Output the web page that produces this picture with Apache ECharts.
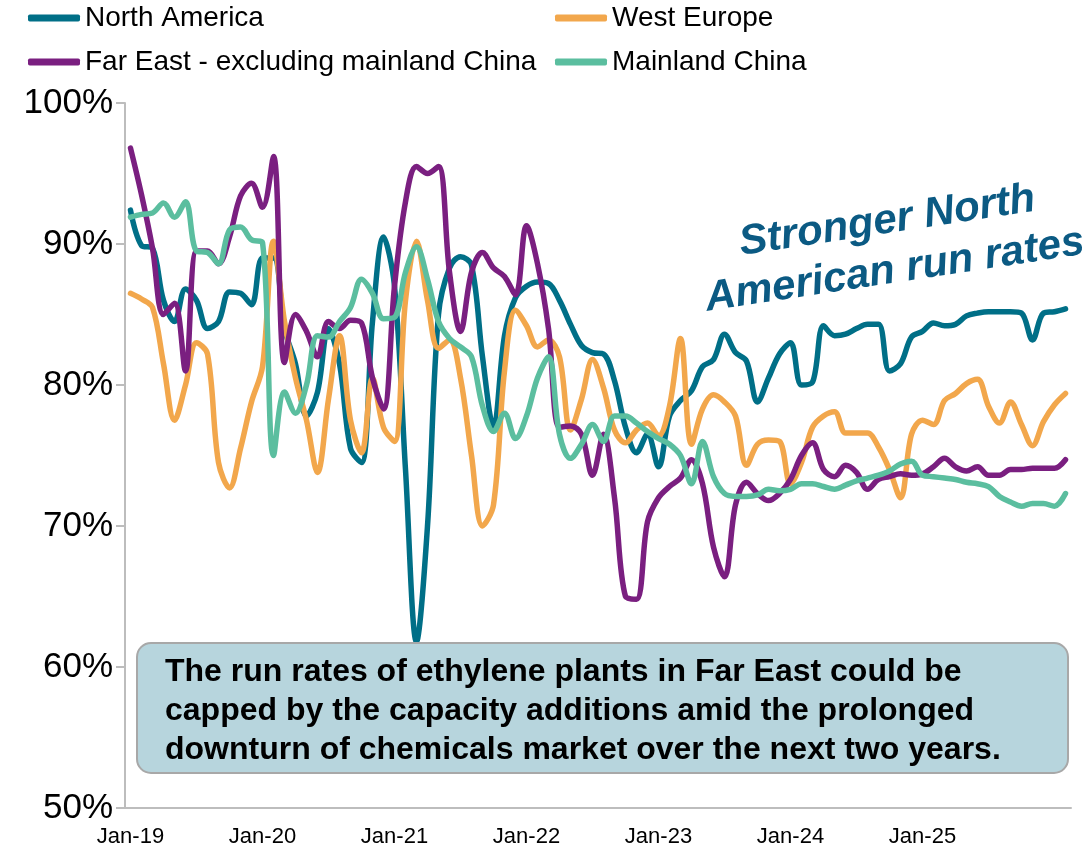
<!DOCTYPE html>
<html>
<head>
<meta charset="utf-8">
<script src="https://cdn.jsdelivr.net/npm/echarts@6/dist/echarts.min.js"></script>
<style>
  html, body { margin: 0; padding: 0; background: #fff; }
  #chart { width: 1088px; height: 852px; }
</style>
</head>
<body>
<div id="chart"></div>
<script>
// months Jan-19 .. Feb-26
const monthNames = ['Jan', 'Feb', 'Mar', 'Apr', 'May', 'Jun', 'Jul', 'Aug', 'Sep', 'Oct', 'Nov', 'Dec'];
const years = ['19', '20', '21', '22', '23', '24', '25', '26'];
const categories = [];
years.forEach(y => monthNames.forEach(m => categories.push(m + '-' + y)));
categories.length = 86;

const yTicks = [50, 60, 70, 80, 90, 100];
const xLabelsShown = ['Jan-19', 'Jan-20', 'Jan-21', 'Jan-22', 'Jan-23', 'Jan-24', 'Jan-25'];

const northAmerica = [
  92.4, 89.9, 89.7, 86.0, 84.5, 86.8, 86.0, 84.0, 84.5, 86.6, 86.5, 85.7,
  89.0, 89.0, 84.0, 81.5, 77.8, 79.5, 84.0, 81.5, 75.5, 74.5, 84.5, 90.5,
  87.0, 74.0, 61.8, 70.0, 85.0, 88.3, 89.1, 88.5, 82.0, 77.0, 83.5, 86.2,
  87.0, 87.3, 87.2, 86.0, 84.3, 82.8, 82.3, 82.2, 80.3, 77.0, 75.2, 76.5,
  74.2, 77.8, 78.9, 79.6, 81.3, 81.8, 83.6, 82.3, 81.7, 78.8, 80.5, 82.2,
  83.0, 80.0, 80.2, 84.2, 83.5, 83.6, 84.0, 84.3, 84.3, 81.0, 81.5, 83.4,
  83.8, 84.4, 84.2, 84.3, 84.9, 85.1, 85.2, 85.2, 85.2, 85.1, 83.2, 85.1,
  85.2, 85.4
];
const westEurope = [
  86.5, 86.1, 85.5, 81.5, 77.5, 80.0, 83.0, 82.2, 74.5, 72.7, 75.5, 78.8,
  81.3, 90.2, 84.5, 80.5, 77.5, 73.8, 79.0, 83.5, 77.5, 75.2, 80.5, 77.0,
  76.0, 86.0, 90.2, 86.0, 82.6, 83.2, 80.5, 75.0, 70.0, 71.5, 81.0, 85.3,
  84.2, 82.7, 83.2, 82.0, 76.8, 79.0, 81.8, 79.8, 76.8, 75.9, 76.8, 77.3,
  76.4, 78.5, 83.3, 75.8, 78.3, 79.3, 78.8, 77.8, 74.3, 75.8, 76.1, 76.0,
  73.0, 74.5, 77.0, 77.8, 78.1, 76.6, 76.6, 76.6, 75.6, 74.0, 72.0, 76.5,
  77.5, 77.2, 78.9, 79.4, 80.1, 80.4, 78.5, 77.3, 78.8, 77.2, 75.7, 77.4,
  78.6, 79.4
];
const farEast = [
  96.8, 93.5, 89.7, 85.0, 85.8, 81.0, 89.5, 89.5, 88.6, 90.5, 93.4, 94.3,
  92.6, 96.2, 81.6, 85.0, 83.8, 82.0, 84.5, 84.0, 84.6, 84.4, 80.5, 78.3,
  87.0, 93.0, 95.5, 95.0, 95.5, 88.0, 83.8, 88.0, 89.4, 88.3, 87.7, 86.4,
  91.3, 88.6, 84.0, 77.0, 77.1, 76.5, 73.6, 76.5, 72.0, 65.0, 64.8, 70.3,
  72.0, 72.8, 73.4, 74.7, 73.0, 68.5, 66.4, 71.5, 73.1, 72.3, 71.8, 72.3,
  73.3, 75.0, 75.9, 74.0, 73.5, 74.3, 73.8, 72.6, 73.3, 73.5, 73.7, 73.6,
  73.7, 74.2, 74.8, 74.2, 73.9, 74.2, 73.6, 73.6, 74.0, 74.0, 74.1, 74.1,
  74.1, 74.7
];
const mainlandChina = [
  91.9, 92.1, 92.2, 92.9, 91.9, 93.0, 89.5, 89.4, 88.6, 91.0, 91.2, 90.3,
  90.1, 75.0, 79.5, 78.0, 80.0, 83.5, 83.4, 84.5, 85.5, 87.5, 86.5, 84.7,
  84.8, 88.0, 89.8, 87.5, 84.5, 83.3, 82.7, 82.0, 78.5, 76.7, 78.0, 76.2,
  77.8, 80.5, 82.0, 76.5, 74.8, 75.8, 77.2, 76.0, 77.8, 77.8, 77.3, 76.7,
  76.2, 75.8, 75.0, 73.0, 76.0, 73.5, 72.3, 72.1, 72.1, 72.2, 72.6, 72.5,
  72.6, 73.0, 73.0, 72.8, 72.6, 72.9, 73.2, 73.4, 73.6, 73.9, 74.4, 74.6,
  73.6, 73.5, 73.4, 73.3, 73.1, 73.0, 72.8, 72.1, 71.7, 71.4, 71.6, 71.6,
  71.4, 72.3
];

const seriesNames = ['North America', 'West Europe', 'Far East - excluding mainland China', 'Mainland China'];
const seriesColors = ['#006f87', '#f2a74c', '#7a1f80', '#5bbe9f'];
const seriesData = [northAmerica, westEurope, farEast, mainlandChina];

const noteText = 'The run rates of ethylene plants in Far East could be\n' +
  'capped by the capacity additions amid the prolonged\n' +
  'downturn of chemicals market over the next two years.';
const calloutText = 'Stronger North\nAmerican run rates';

const chart = echarts.init(document.getElementById('chart'), null, { renderer: 'canvas' });

const legendPos = [[28, 4], [555, 4], [28, 48], [555, 48]];

const option = {
  animation: false,
  textStyle: { fontFamily: 'Liberation Sans, Arial, sans-serif' },
  legend: seriesNames.map((name, i) => ({
    data: [name],
    left: legendPos[i][0],
    top: legendPos[i][1],
    padding: 0,
    icon: 'roundRect',
    itemWidth: 52,
    itemHeight: 7,
    itemGap: 0,
    textStyle: { fontSize: 28, color: '#000', padding: [0, 0, 0, 0] }
  })),
  grid: { left: 125, right: 17, top: 103, bottom: 44, containLabel: false },
  xAxis: {
    type: 'category',
    data: categories,
    boundaryGap: true,
    axisLine: { lineStyle: { color: '#bdbdbd', width: 2 } },
    axisTick: { show: false },
    axisLabel: {
      interval: (idx, label) => xLabelsShown.indexOf(label) >= 0,
      fontSize: 22, color: '#000', margin: 18
    }
  },
  yAxis: {
    type: 'value',
    min: yTicks[0],
    max: yTicks[yTicks.length - 1],
    interval: 10,
    splitLine: { show: false },
    axisLine: { show: true, lineStyle: { color: '#bdbdbd', width: 2 } },
    axisTick: { show: true, inside: false, length: 9, lineStyle: { color: '#bdbdbd', width: 2 } },
    axisLabel: { formatter: '{value}%', fontSize: 35, color: '#000', margin: 12 }
  },
  series: seriesNames.map((name, i) => ({
    name: name,
    type: 'line',
    data: seriesData[i],
    smooth: 0.35,
    showSymbol: false,
    symbol: 'none',
    color: seriesColors[i],
    lineStyle: { width: 5.5, cap: 'round', join: 'round' }
  })),
  graphic: [
    {
      type: 'rect',
      shape: { x: 137, y: 643, width: 931, height: 130, r: 14 },
      style: { fill: '#b7d5dd', stroke: '#a8a8a8', lineWidth: 2 },
      z: 100
    },
    {
      type: 'text',
      x: 165,
      y: 653,
      style: {
        text: noteText,
        font: 'bold 32px "Liberation Sans", Arial, sans-serif',
        lineHeight: 39,
        fill: '#000'
      },
      z: 101
    },
    {
      type: 'text',
      x: 891,
      y: 246,
      rotation: 0.15,
      style: {
        text: calloutText,
        font: 'italic bold 42px "Liberation Sans", Arial, sans-serif',
        lineHeight: 50,
        fill: '#0b5a83',
        align: 'center',
        verticalAlign: 'middle'
      },
      z: 101
    }
  ]
};

chart.setOption(option);
</script>
</body>
</html>
